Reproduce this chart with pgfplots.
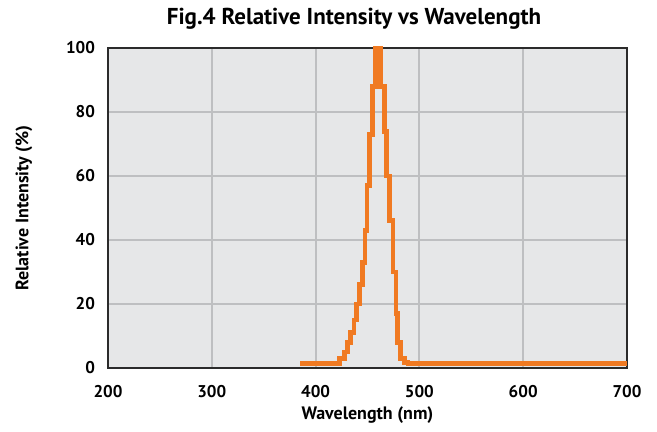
\documentclass[border=0pt]{standalone}
\usepackage{pgfplots}
\pgfplotsset{compat=1.18}
\usepackage{fontspec}
\setmainfont{PT Sans}
\setsansfont{PT Sans}
\definecolor{bgc}{HTML}{E6E7E8}
\definecolor{gridc}{HTML}{BEBFC1}
\definecolor{linec}{HTML}{F07A22}
\definecolor{framec}{HTML}{2B2B2B}
\begin{document}
\begin{tikzpicture}
\begin{axis}[
  name=ax,
  scale only axis,
  width=259.5pt, height=160pt,
  xmin=200, xmax=700, ymin=0, ymax=100,
  xtick={200,300,...,700}, ytick={0,20,...,100},
  grid=major,
  major grid style={color=gridc, line width=1pt},
  axis background/.style={fill=bgc},
  axis line style={color=framec, line width=1.3pt},
  tick style={draw=none},
  xticklabel={\bfseries\pgfmathprintnumber[assume math mode=true]{\tick}},
  yticklabel={\bfseries\pgfmathprintnumber[assume math mode=true]{\tick}},
  ticklabel style={font=\fontsize{8.5}{9}\selectfont\bfseries},
  xticklabel style={yshift=-5pt},
  yticklabel style={xshift=-3pt},
  xlabel={Wavelength (nm)},
  label style={font=\fontsize{9}{10}\selectfont\bfseries},
  xlabel style={at={(0.5,0)}, anchor=center, yshift=-23.5pt},
  clip=false,
]
\addplot[const plot, color=linec, line width=2.4pt, line join=miter] coordinates {
(385,1.3) (423,3) (428,5) (431,8) (434,11) (437,15) (439.5,20) (442,26)
(445,33) (447.5,43) (449.5,57) (452,73) (454.5,88) (457.5,100) (462.5,88)
(466,74) (468.5,60) (471,46) (474.5,30) (477.5,17) (479,8) (482,3)
(485.5,1.6) (489,1.3) (700,1.3)
};
\end{axis}
\node[font=\fontsize{11.5}{13}\selectfont\bfseries, anchor=center] at ([xshift=123pt, yshift=14.5pt]ax.north west) {Fig.4 Relative Intensity vs Wavelength};
\node[font=\fontsize{9}{10}\selectfont\bfseries, rotate=90, anchor=center] at ([xshift=-42pt]ax.west) {Relative Intensity (\%)};
\path[use as bounding box] ([xshift=-54pt, yshift=-32pt]ax.south west) rectangle ([xshift=15pt, yshift=24pt]ax.north east);
\end{tikzpicture}
\end{document}
